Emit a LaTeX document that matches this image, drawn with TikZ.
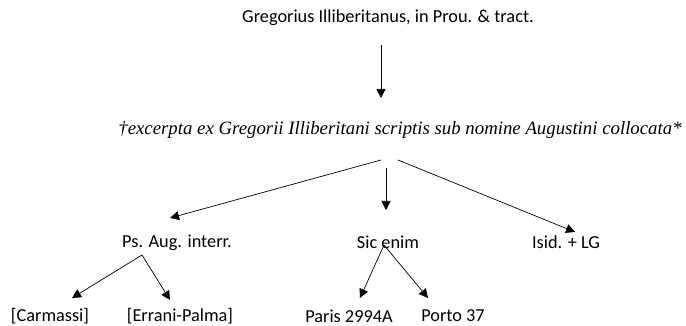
\documentclass[tikz,border=0pt]{standalone}
\usepackage{fontspec}
\setmainfont{Carlito}
\newfontfamily\timesfont{Liberation Serif}
\usepackage{tikz}
\usetikzlibrary{arrows.meta}

\begin{document}
\begin{tikzpicture}[x=1pt,y=-1pt,
    txt/.style={inner sep=0pt,font=\fontsize{18.3}{20}\selectfont},
    arr/.style={-{Triangle[width=9pt,length=9pt]},line width=0.7pt}]
  \useasboundingbox (0,0) rectangle (686,326);

  \node[txt] (greg) at (388,18) {Gregorius Illiberitanus, in Prou. \& tract.};
  \node[inner sep=0pt,font=\timesfont\itshape\fontsize{18.8}{20}\selectfont] (exc) at (400,130)
     {\textdagger excerpta ex Gregorii Illiberitani scriptis sub nomine Augustini collocata*};

  \node[txt] (ps) at (177,243) {Ps. Aug. interr.};
  \node[txt] (sic) at (388,242) {Sic enim};
  \node[txt] (isid) at (566,242) {Isid. + LG};

  \node[txt] (carm) at (50,316) {[Carmassi]};
  \node[txt] (err) at (180,316) {[Errani-Palma]};
  \node[txt] (paris) at (349,316) {Paris 2994A};
  \node[txt] (porto) at (453,316) {Porto 37};

  \draw[arr] ([shift={(-7,27)}]greg.center) -- ([shift={(-19,-32)}]exc.center);

  \draw[arr] ([shift={(-19,30)}]exc.center) -- ([shift={(-7,-25)}]ps.center);
  \draw[arr] ([shift={(-14,38)}]exc.center) -- ([shift={(-2,-32)}]sic.center);
  \draw[arr] ([shift={(-2,30)}]exc.center) -- ([shift={(9,-10)}]isid.center);

  % second level
  \draw[arr] ([shift={(-35,12)}]ps.center) -- ([shift={(22,-18)}]carm.center);
  \draw[arr] ([shift={(-35,12)}]ps.center) -- ([shift={(-10,-16)}]err.center);
  \draw[arr] ([shift={(-4,3)}]sic.center) -- ([shift={(11,-18)}]paris.center);
  \draw[arr] ([shift={(-4,3)}]sic.center) -- ([shift={(-25,-18)}]porto.center);
\end{tikzpicture}
\end{document}
